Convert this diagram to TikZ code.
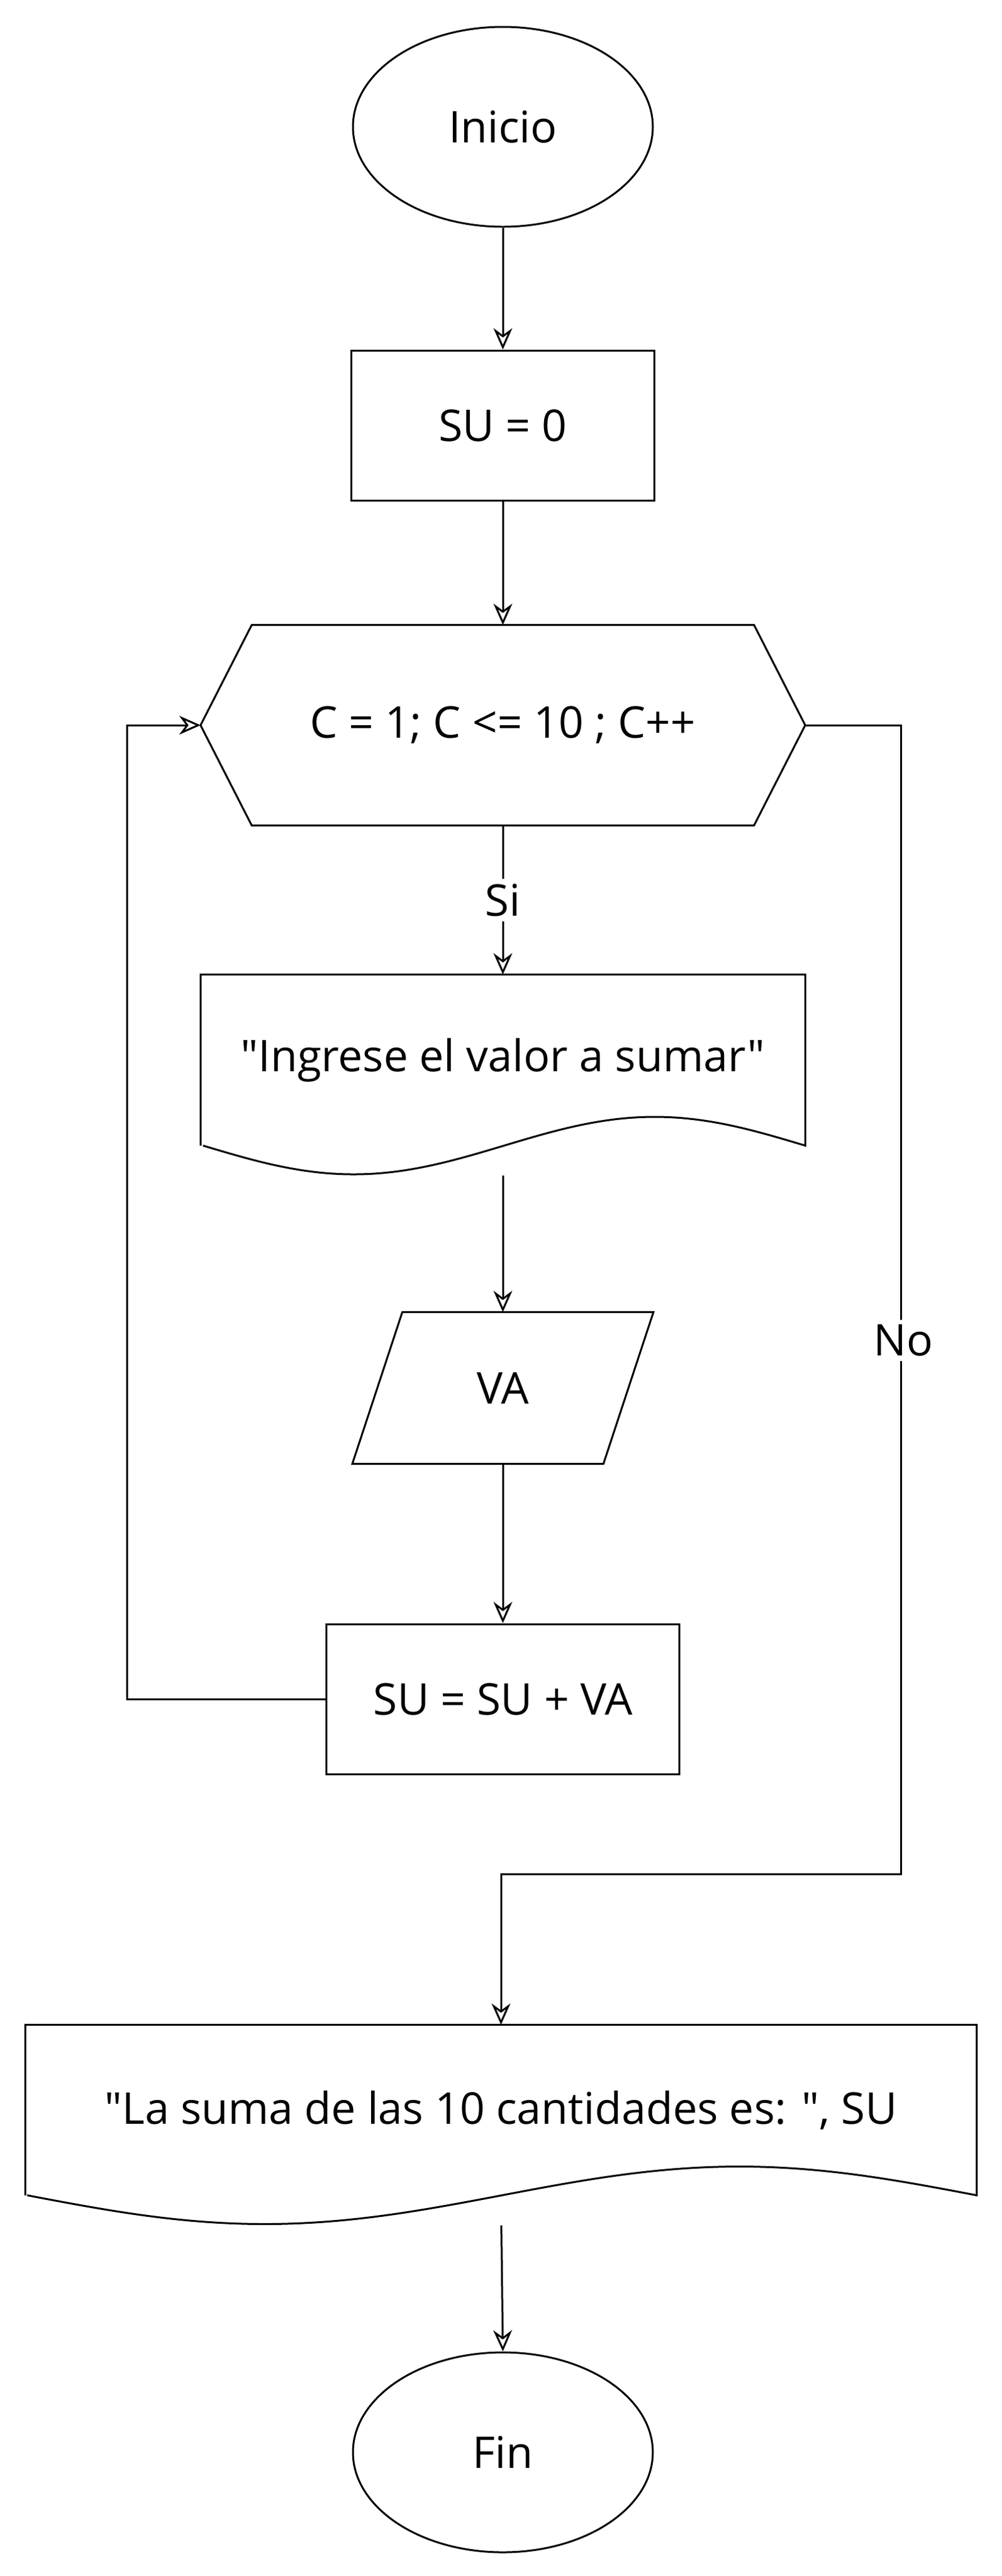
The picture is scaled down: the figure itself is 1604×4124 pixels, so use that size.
\documentclass[tikz,border=0pt]{standalone}
\usepackage{fontspec}
\setmainfont{Open Sans}[Ligatures=TeXOff]
\usetikzlibrary{shapes.geometric,arrows.meta}

\tikzset{
  every node/.style={font=\fontsize{35}{42}\selectfont, inner sep=0pt},
  terminal/.style={draw, ellipse, minimum width=240pt, minimum height=160pt},
  process/.style={draw, rectangle, minimum height=120pt},
  shapebox/.style={rectangle},
  flow/.style={-{Stealth[open,length=17pt,width=15pt]}},
  lbl/.style={fill=white, inner sep=4pt}
}

\begin{document}
\begin{tikzpicture}[x=0.5pt,y=-0.5pt,line width=1.5pt]
  \useasboundingbox (0,0) rectangle (1604,4124);

  \node[terminal] (ini) at (805,203) {Inicio};
  \node[process,minimum width=242.5pt] (su0) at (805,681) {SU = 0};

  % for loop header
  \node[shapebox,minimum width=482.5pt,minimum height=159pt] (hex) at (805,1161) {C = 1; C <= 10 ; C++};
  \draw ([xshift=41pt]hex.north west) -- ([xshift=-41pt]hex.north east) -- (hex.east)
    -- ([xshift=-41pt]hex.south east) -- ([xshift=41pt]hex.south west) -- (hex.west) -- cycle;

  \node[shapebox,minimum width=482.5pt,minimum height=135.5pt] (msg) at (805,1697) {"Ingrese el valor a sumar"};
  \draw (msg.south west) -- (msg.north west) -- (msg.north east) -- (msg.south east)
    sin ++(-241,-46) cos ++(-241,46) sin ++(-241,46) cos ++(-241,-46);

  \node[shapebox,minimum width=239.5pt,minimum height=120pt] (va) at (805,2222) {VA};
  \draw ([xshift=40pt]va.north west) -- (va.north east) -- ([xshift=-40pt]va.south east)
    -- (va.south west) -- cycle;

  \node[process,minimum width=282.5pt] (sum) at (805,2720) {SU = SU + VA};

  \node[shapebox,minimum width=760pt,minimum height=135pt] (res) at (802,3378) {"La suma de las 10 cantidades es: ", SU};
  \draw (res.south west) -- (res.north west) -- (res.north east) -- (res.south east)
    sin ++(-380,-46) cos ++(-380,46) sin ++(-380,46) cos ++(-380,-46);

  \node[terminal] (fin) at (805,3926) {Fin};

  \coordinate (loopL) at (203,2722);
  \coordinate (noR) at (1442,3000);

  % connectors
  \foreach \a/\b in {ini/su0, su0/hex, va/sum} {
    \draw[flow] (\a.south) -- (\b.north);
  }
  \foreach \a/\b in {msg/va, res/fin} {
    \draw[flow,shorten <=24pt] (\a.south) -- (\b.north);
  }
  \draw[flow] (hex.south) -- node[lbl] (si) {Si} (msg.north);
  \draw[flow] (sum.west) -- (sum.west -| loopL) |- (hex.west);
  \draw[flow] (hex.east) -| (noR) -| (res.north);
  \node[lbl] (no) at (1446,2146) {No};
\end{tikzpicture}
\end{document}
